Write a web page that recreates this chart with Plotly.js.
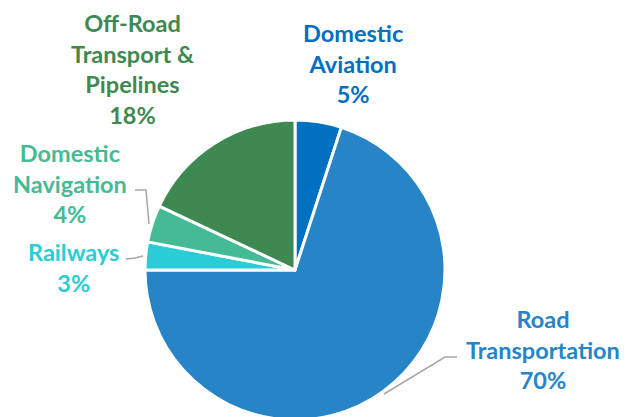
<!DOCTYPE html>
<html>
<head>
<meta charset="utf-8">
<script src="https://cdn.plot.ly/plotly-3.0.1.min.js"></script>
<style>
html,body{margin:0;padding:0;overflow:hidden;background:#fff;width:627px;height:417px;}
#chart{width:627px;height:420px;}
</style>
</head>
<body>
<div id="chart"></div>
<script>
// Data
var categories = ["Domestic Aviation", "Road Transportation", "Railways", "Domestic Navigation", "Off-Road Transport & Pipelines"];
var shares = [5, 70, 3, 4, 18];
var labelLines = [
  ["Domestic", "Aviation"],
  ["Road", "Transportation"],
  ["Railways"],
  ["Domestic", "Navigation"],
  ["Off-Road", "Transport &", "Pipelines"]
];
var colors = ["#0070C0", "#2684C7", "#2ACDD5", "#44BA95", "#3D8951"];

// Layout geometry (pixels)
var W = 627, H = 420;
var plotL = 145, plotT = 120, plotSize = 300;
function px(x){ return (x - plotL) / plotSize; }
function py(y){ return (plotT + plotSize - y) / plotSize; }

// label centers (pixel) - layout positions
var labelPos = [
  [353, 64],
  [543, 349],
  [73, 267],
  [70, 183],
  [132, 69]
];
var leaders = [
  null,
  [[384, 394], [445, 357], [457, 357]],
  [[126, 259], [135, 258], [143, 256]],
  [[135, 190], [146, 190], [149, 224]],
  null
];

var total = shares.reduce(function(a,b){return a+b;}, 0);
var annotations = categories.map(function(c, i){
  var pct = Math.round(shares[i] / total * 100) + "%";
  return {
    xref: "paper", yref: "paper",
    x: px(labelPos[i][0]), y: py(labelPos[i][1]),
    xanchor: "center", yanchor: "middle",
    text: labelLines[i].concat([pct]).join("<br>"),
    showarrow: false,
    align: "center",
    font: {family: "Lato, 'Open Sans', sans-serif", size: 23.5, color: colors[i], weight: 700}
  };
});
var shapes = [];
leaders.forEach(function(pts){
  if (!pts) return;
  var d = pts.map(function(p, k){ return (k ? "L" : "M") + px(p[0]) + "," + py(p[1]); }).join(" ");
  shapes.push({type: "path", xref: "paper", yref: "paper", path: d, line: {color: "#A6A6A6", width: 1.5}});
});

var trace = {
  type: "pie",
  labels: categories,
  values: shares,
  sort: false,
  direction: "clockwise",
  rotation: 0,
  textinfo: "none",
  hoverinfo: "label+percent",
  marker: {colors: colors, line: {color: "#FFFFFF", width: 3}},
  domain: {x: [0, 1], y: [0, 1]}
};

var layout = {
  width: W, height: H,
  margin: {l: plotL, r: W - plotL - plotSize, t: plotT, b: H - plotT - plotSize, pad: 0},
  showlegend: false,
  paper_bgcolor: "#FFFFFF",
  annotations: annotations,
  shapes: shapes
};

Plotly.newPlot("chart", [trace], layout, {displayModeBar: false, staticPlot: true});
</script>
</body>
</html>
